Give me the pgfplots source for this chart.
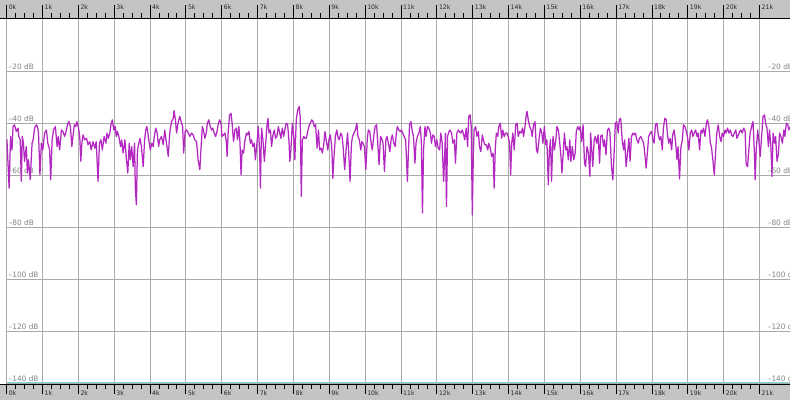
\documentclass[border=0pt]{standalone}
\usepackage{pgfplots}
\pgfplotsset{compat=1.18}
\usepackage{fontspec}
\setmainfont{DejaVu Sans}

\definecolor{trace}{RGB}{178,40,192}
\definecolor{floorline}{RGB}{120,214,204}
\definecolor{ruler}{RGB}{196,196,196}
\definecolor{gridgray}{RGB}{170,170,170}
\definecolor{dblabel}{RGB}{130,130,130}
\definecolor{rulertext}{RGB}{40,40,40}

\pgfplotsset{
  spectrum/.style={
    scale only axis, width=783.4pt, height=366pt,
    at={(6.6pt,0pt)}, anchor=south west,
    xmin=0, xmax=21.852, ymin=-140.4, ymax=0.5,
    xtick={0,...,21}, ytick={-140,-120,...,-20},
    axis line style={draw=none},
  },
  rulerticks/.style={
    hide y axis,
    tick align=outside,
    minor x tick num=3,
    minor tick length=5pt,
    every tick/.style={black, line width=0.8pt},
    xticklabels={0k,1k,2k,3k,4k,5k,6k,7k,8k,9k,10k,11k,12k,13k,14k,15k,16k,17k,18k,19k,20k,21k},
    xticklabel style={font=\fontsize{6.2}{7}\selectfont, text=rulertext, inner sep=0pt},
  },
  dbticks/.style={
    yticklabels={–140 dB,–120 dB,–100 dB,–80 dB,–60 dB,–40 dB,–20 dB},
    yticklabel style={font=\fontsize{7.4}{8}\selectfont, text=dblabel, inner sep=0pt, anchor=south west},
    ytick style={draw=none},
  },
}

\begin{document}
\begin{tikzpicture}
% ruler bands
\fill[ruler] (0,366pt) rectangle (790pt,384pt);
\fill[ruler] (0,-16pt) rectangle (790pt,0pt);

% plot area: grid, data and left dB labels
\begin{axis}[spectrum, dbticks,
  xticklabels={}, xtick style={draw=none},
  xmajorgrids, ymajorgrids,
  grid style={gridgray, line width=0.8pt},
  yticklabel pos=left,
  yticklabel style={xshift=1.8pt, yshift=1.5pt},
]
\addplot[floorline, line width=1pt] coordinates {(0,-140) (21.852,-140)};
\addplot[trace, line width=1.25pt, line join=round] table {
0.00 -50.3
0.01 -46.4
0.07 -65.0
0.11 -45.1
0.15 -50.3
0.18 -41.3
0.22 -40.6
0.27 -43.2
0.32 -41.9
0.34 -45.1
0.38 -46.4
0.41 -62.4
0.44 -45.1
0.47 -47.7
0.50 -54.7
0.55 -49.0
0.58 -59.2
0.61 -54.1
0.66 -61.8
0.71 -47.7
0.74 -46.4
0.78 -41.9
0.83 -40.6
0.86 -41.3
0.89 -43.8
0.93 -59.9
0.97 -47.7
1.01 -50.3
1.06 -43.8
1.11 -42.6
1.15 -47.7
1.20 -50.3
1.23 -61.8
1.27 -46.4
1.31 -42.6
1.36 -41.3
1.41 -49.0
1.44 -45.1
1.48 -50.3
1.53 -42.6
1.57 -43.2
1.62 -45.1
1.67 -42.6
1.71 -40.0
1.74 -39.4
1.78 -41.3
1.82 -49.0
1.85 -45.1
1.89 -40.6
1.93 -41.3
1.96 -39.4
2.00 -41.3
2.04 -45.1
2.07 -54.7
2.10 -47.7
2.13 -44.5
2.18 -46.4
2.23 -45.8
2.27 -48.3
2.32 -47.1
2.36 -50.3
2.41 -47.1
2.46 -49.6
2.50 -47.1
2.55 -62.4
2.59 -47.7
2.63 -46.4
2.67 -50.3
2.72 -45.1
2.77 -47.7
2.80 -43.8
2.84 -45.8
2.88 -43.8
2.91 -40.6
2.95 -38.7
2.99 -42.6
3.03 -41.3
3.06 -45.1
3.09 -43.2
3.13 -45.1
3.18 -49.0
3.21 -46.4
3.25 -51.5
3.30 -46.4
3.34 -53.5
3.38 -59.2
3.42 -47.7
3.45 -54.1
3.49 -49.0
3.53 -56.7
3.57 -47.7
3.59 -65.0
3.62 -71.4
3.65 -50.3
3.69 -47.7
3.72 -45.8
3.76 -49.0
3.81 -56.7
3.85 -46.4
3.88 -42.6
3.91 -41.3
3.94 -43.8
3.98 -47.7
4.01 -50.3
4.05 -47.7
4.09 -49.0
4.12 -45.1
4.16 -41.9
4.20 -43.8
4.24 -49.0
4.27 -46.4
4.32 -45.1
4.37 -48.3
4.41 -42.6
4.46 -47.7
4.51 -52.8
4.55 -43.8
4.60 -39.4
4.65 -38.1
4.67 -35.1
4.71 -38.7
4.74 -43.8
4.79 -39.4
4.83 -37.4
4.88 -40.0
4.91 -41.3
4.94 -51.5
4.98 -43.2
5.02 -42.6
5.07 -43.8
5.11 -45.1
5.16 -43.8
5.20 -44.5
5.25 -46.4
5.30 -47.1
5.34 -54.1
5.39 -57.9
5.42 -50.3
5.46 -41.3
5.49 -42.6
5.53 -45.8
5.57 -43.8
5.60 -40.0
5.64 -38.7
5.68 -41.3
5.72 -42.6
5.75 -41.9
5.79 -43.8
5.83 -45.1
5.87 -43.2
5.90 -40.6
5.94 -38.7
5.98 -40.0
6.01 -45.1
6.05 -44.5
6.09 -43.8
6.13 -47.1
6.15 -52.8
6.18 -43.8
6.22 -36.8
6.26 -36.2
6.29 -40.0
6.33 -47.1
6.37 -42.6
6.41 -41.9
6.44 -46.4
6.48 -41.3
6.51 -47.7
6.54 -59.9
6.57 -50.3
6.61 -51.5
6.65 -46.4
6.69 -43.8
6.72 -44.5
6.76 -43.2
6.80 -47.7
6.83 -46.4
6.87 -49.0
6.91 -47.7
6.94 -54.1
6.98 -48.3
7.02 -41.3
7.06 -51.5
7.08 -65.0
7.11 -41.9
7.15 -46.4
7.19 -54.7
7.22 -49.0
7.26 -41.3
7.29 -38.1
7.32 -43.8
7.36 -42.6
7.39 -49.0
7.43 -44.5
7.47 -42.6
7.50 -45.8
7.54 -45.1
7.58 -41.3
7.62 -43.8
7.65 -45.8
7.69 -41.9
7.73 -45.1
7.76 -42.6
7.80 -40.0
7.84 -40.6
7.88 -47.7
7.90 -54.7
7.93 -50.3
7.97 -40.0
8.01 -45.1
8.04 -54.1
8.08 -38.7
8.12 -34.9
8.16 -33.6
8.19 -37.4
8.22 -68.2
8.25 -46.4
8.29 -45.1
8.32 -45.8
8.36 -45.8
8.40 -43.2
8.43 -41.3
8.47 -40.0
8.51 -38.7
8.55 -39.4
8.58 -41.3
8.62 -40.6
8.66 -49.6
8.70 -42.6
8.73 -50.3
8.77 -49.6
8.81 -51.5
8.85 -47.7
8.88 -43.2
8.92 -47.1
8.96 -50.3
8.99 -46.4
9.03 -44.5
9.07 -49.0
9.10 -61.2
9.13 -53.5
9.17 -45.1
9.21 -42.6
9.25 -45.8
9.28 -46.4
9.32 -43.8
9.36 -45.1
9.39 -49.6
9.43 -57.9
9.47 -50.3
9.51 -43.8
9.54 -50.3
9.58 -62.4
9.62 -47.7
9.65 -45.1
9.69 -43.8
9.73 -42.6
9.77 -40.0
9.80 -45.1
9.84 -46.4
9.88 -50.3
9.91 -47.1
9.94 -47.7
9.98 -49.0
10.02 -57.9
10.06 -46.4
10.09 -42.6
10.13 -43.2
10.17 -47.7
10.20 -50.3
10.24 -45.1
10.28 -41.3
10.32 -40.6
10.35 -47.1
10.39 -56.0
10.43 -45.1
10.46 -45.8
10.50 -47.7
10.54 -58.6
10.58 -46.4
10.61 -45.1
10.65 -47.7
10.69 -50.9
10.73 -45.8
10.76 -44.5
10.80 -47.7
10.84 -49.0
10.87 -43.8
10.90 -41.3
10.94 -42.6
10.98 -43.2
11.01 -42.6
11.05 -43.8
11.09 -45.1
11.13 -46.4
11.16 -55.4
11.18 -62.4
11.21 -50.3
11.24 -40.6
11.28 -39.4
11.31 -42.6
11.35 -45.1
11.39 -55.4
11.42 -47.7
11.46 -45.1
11.50 -43.8
11.54 -41.3
11.57 -47.7
11.60 -74.6
11.63 -50.3
11.67 -41.3
11.70 -45.1
11.74 -41.3
11.78 -41.9
11.82 -43.8
11.85 -47.7
11.89 -44.5
11.93 -45.1
11.96 -49.0
12.00 -46.4
12.04 -49.6
12.08 -50.3
12.11 -43.8
12.15 -47.7
12.19 -62.4
12.22 -52.8
12.24 -43.8
12.27 -72.1
12.30 -45.1
12.34 -43.2
12.37 -42.6
12.41 -43.8
12.45 -47.7
12.49 -46.4
12.52 -55.4
12.56 -43.8
12.60 -42.6
12.63 -43.2
12.67 -43.8
12.71 -42.6
12.75 -44.5
12.78 -46.4
12.82 -41.9
12.86 -49.0
12.89 -37.4
12.93 -36.8
12.96 -41.3
12.99 -75.3
13.02 -51.5
13.04 -42.6
13.08 -41.3
13.12 -45.1
13.16 -43.2
13.19 -49.0
13.23 -50.9
13.27 -44.5
13.30 -46.4
13.34 -48.3
13.38 -48.3
13.42 -50.3
13.45 -47.7
13.49 -49.6
13.53 -52.8
13.57 -51.5
13.60 -65.0
13.63 -50.3
13.66 -43.8
13.70 -45.1
13.73 -41.3
13.77 -40.0
13.81 -45.8
13.84 -42.6
13.88 -45.1
13.92 -43.8
13.96 -43.8
13.99 -45.1
14.03 -47.7
14.06 -59.9
14.09 -47.7
14.12 -43.8
14.16 -50.3
14.20 -40.6
14.24 -40.0
14.27 -45.1
14.31 -43.2
14.35 -43.8
14.39 -41.9
14.42 -45.1
14.46 -41.3
14.50 -36.2
14.52 -35.5
14.55 -38.7
14.59 -41.3
14.63 -42.6
14.66 -45.1
14.70 -40.6
14.74 -39.4
14.78 -50.3
14.81 -51.5
14.85 -46.4
14.89 -41.9
14.93 -43.8
14.96 -47.7
15.00 -41.3
15.04 -48.3
15.07 -46.4
15.11 -63.7
15.14 -50.3
15.17 -46.4
15.20 -62.4
15.24 -45.1
15.28 -50.3
15.32 -46.4
15.35 -41.3
15.39 -42.6
15.43 -47.7
15.47 -54.1
15.49 -59.2
15.52 -52.8
15.56 -43.8
15.60 -50.3
15.63 -49.0
15.67 -54.1
15.71 -46.4
15.74 -54.7
15.78 -49.0
15.82 -54.1
15.86 -51.5
15.89 -43.2
15.93 -41.3
15.97 -42.6
16.00 -41.3
16.04 -47.1
16.08 -40.6
16.12 -55.4
16.15 -56.7
16.19 -49.0
16.23 -51.5
16.27 -60.5
16.29 -43.8
16.31 -47.7
16.35 -56.7
16.39 -46.4
16.42 -45.1
16.46 -47.7
16.50 -44.5
16.54 -55.4
16.57 -45.1
16.61 -44.5
16.65 -49.0
16.68 -46.4
16.72 -52.2
16.76 -42.6
16.80 -41.9
16.83 -43.8
16.87 -56.0
16.91 -61.8
16.95 -50.3
16.98 -40.0
17.02 -39.4
17.06 -43.8
17.09 -38.7
17.13 -38.1
17.17 -46.4
17.21 -50.3
17.24 -46.4
17.28 -56.7
17.32 -51.5
17.36 -45.8
17.39 -54.7
17.43 -45.1
17.47 -43.8
17.50 -44.5
17.54 -43.8
17.58 -46.4
17.62 -47.7
17.65 -45.8
17.69 -45.1
17.73 -46.4
17.77 -47.7
17.80 -51.5
17.84 -57.3
17.88 -50.3
17.91 -45.1
17.95 -43.8
17.99 -43.2
18.03 -46.4
18.06 -47.7
18.10 -40.6
18.14 -40.0
18.17 -43.8
18.21 -46.4
18.25 -45.1
18.29 -50.3
18.32 -41.9
18.36 -38.1
18.40 -38.7
18.44 -45.1
18.47 -47.7
18.51 -45.8
18.55 -50.3
18.58 -44.5
18.62 -42.6
18.66 -47.1
18.70 -54.1
18.73 -49.0
18.77 -61.5
18.81 -49.0
18.85 -46.4
18.88 -40.6
18.92 -41.3
18.96 -43.2
18.99 -45.1
19.03 -50.3
19.07 -43.8
19.11 -42.6
19.14 -45.1
19.18 -43.8
19.22 -42.6
19.26 -45.1
19.29 -43.8
19.33 -50.3
19.37 -42.6
19.40 -43.8
19.44 -41.9
19.48 -45.1
19.52 -40.0
19.55 -38.7
19.59 -41.3
19.63 -47.7
19.66 -49.0
19.70 -54.1
19.74 -59.9
19.78 -50.3
19.81 -43.8
19.85 -40.6
19.89 -45.1
19.93 -47.1
19.96 -43.8
20.00 -45.1
20.04 -42.6
20.07 -43.8
20.11 -41.9
20.15 -43.8
20.19 -42.6
20.22 -44.5
20.26 -45.1
20.30 -43.8
20.34 -42.6
20.37 -45.8
20.41 -44.5
20.45 -43.2
20.48 -42.6
20.52 -43.8
20.56 -41.9
20.60 -43.2
20.63 -56.0
20.67 -56.7
20.71 -49.0
20.74 -43.8
20.78 -41.3
20.82 -39.4
20.86 -51.5
20.88 -61.8
20.91 -50.3
20.95 -42.6
20.99 -47.7
21.02 -52.8
21.06 -45.1
21.10 -37.4
21.14 -36.8
21.17 -40.0
21.21 -41.9
21.25 -49.0
21.28 -42.6
21.32 -49.0
21.35 -60.5
21.38 -43.8
21.42 -47.7
21.45 -45.1
21.49 -54.7
21.53 -51.5
21.56 -43.8
21.60 -45.1
21.64 -47.7
21.68 -42.6
21.71 -45.1
21.75 -40.0
21.79 -40.6
21.82 -42.6
21.86 -41.3
};
\end{axis}

% right-hand dB labels, running into the right edge
\begin{axis}[spectrum, dbticks, hide x axis,
  yticklabel pos=right,
  yticklabel style={xshift=-22.4pt, yshift=1.5pt},
]
\end{axis}

% bottom ruler
\begin{axis}[spectrum, rulerticks,
  xtick pos=left, major tick length=10pt,
  xticklabel style={anchor=north west, xshift=2pt, yshift=3pt},
]
\end{axis}

% top ruler
\begin{axis}[spectrum, rulerticks,
  xtick pos=right, xticklabel pos=right, major tick length=13pt,
  xticklabel style={anchor=south west, xshift=2pt, yshift=-5pt},
]
\end{axis}

% ruler base lines
\draw[black, line width=0.9pt] (0,366pt) -- (790pt,366pt);
\draw[black, line width=0.9pt] (0,0pt) -- (790pt,0pt);

\pgfresetboundingbox
\useasboundingbox (0,-16pt) rectangle (790pt,384pt);
\end{tikzpicture}
\end{document}
